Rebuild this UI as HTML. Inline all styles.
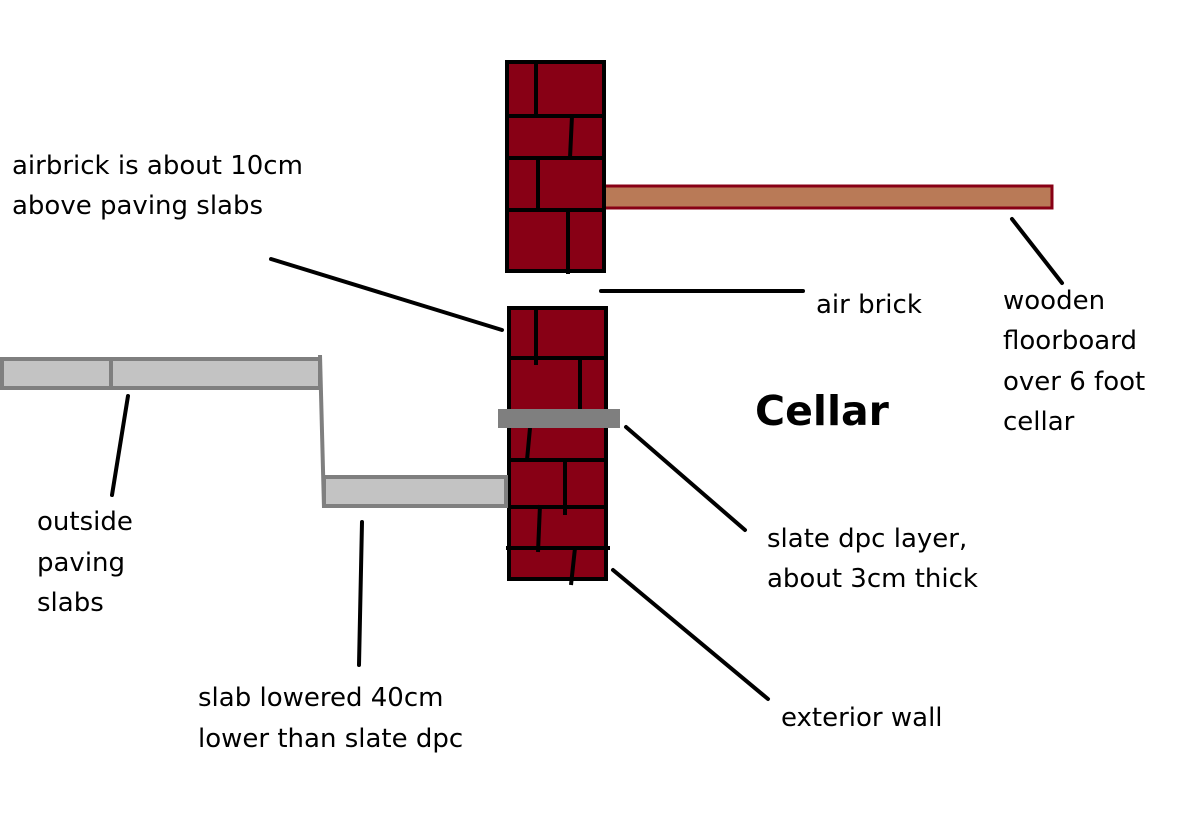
<!DOCTYPE html>
<html><head><meta charset="utf-8"><style>
html,body{margin:0;padding:0;background:#fff;width:1200px;height:823px;overflow:hidden}
text{font-family:"DejaVu Sans","Liberation Sans",sans-serif;font-size:26px;fill:#000}
</style></head><body>
<svg width="1200" height="823" viewBox="0 0 1200 823" xmlns="http://www.w3.org/2000/svg">
<rect x="604" y="186" width="448" height="22" fill="#b97a57" stroke="#880015" stroke-width="3"/>
<rect x="507" y="62" width="97" height="209" fill="#880015" stroke="#000" stroke-width="4"/>
<g stroke="#000" stroke-width="4" fill="none">
<line x1="507" y1="116" x2="606" y2="116"/>
<line x1="507" y1="158" x2="606" y2="158"/>
<line x1="507" y1="210" x2="606" y2="210"/>
<line x1="536" y1="62" x2="536" y2="116"/>
<line x1="572" y1="116" x2="570" y2="158"/>
<line x1="538" y1="158" x2="538" y2="210"/>
<line x1="568" y1="210" x2="568" y2="274"/>
</g>
<rect x="509" y="308" width="97" height="271" fill="#880015" stroke="#000" stroke-width="4"/>
<g stroke="#000" stroke-width="4" fill="none">
<line x1="509" y1="358" x2="606" y2="358"/>
<line x1="509" y1="460" x2="608" y2="460"/>
<line x1="509" y1="507" x2="608" y2="507"/>
<line x1="506" y1="548" x2="610" y2="548"/>
<line x1="536" y1="308" x2="536" y2="365"/>
<line x1="580" y1="358" x2="580" y2="409"/>
<line x1="530" y1="428" x2="527" y2="460"/>
<line x1="565" y1="460" x2="565" y2="515"/>
<line x1="540" y1="505" x2="538" y2="552"/>
<line x1="575" y1="548" x2="571" y2="585"/>
</g>
<rect x="498" y="409" width="122" height="19" fill="#7f7f7f"/>
<rect x="2" y="359" width="318" height="29" fill="#c3c3c3" stroke="#7f7f7f" stroke-width="4"/>
<line x1="111" y1="359" x2="111" y2="388" stroke="#7f7f7f" stroke-width="4"/>
<line x1="320" y1="355" x2="324" y2="508" stroke="#7f7f7f" stroke-width="4"/>
<rect x="324" y="477" width="182" height="29" fill="#c3c3c3" stroke="#7f7f7f" stroke-width="4"/>
<g stroke="#000" stroke-width="4" stroke-linecap="round">
<line x1="271" y1="259" x2="502" y2="330"/>
<line x1="601" y1="291" x2="803" y2="291"/>
<line x1="1012" y1="219" x2="1062" y2="283"/>
<line x1="626" y1="427" x2="745" y2="530"/>
<line x1="613" y1="570" x2="768" y2="699"/>
<line x1="128" y1="396" x2="112" y2="495"/>
<line x1="362" y1="522" x2="359" y2="665"/>
</g>
<text x="12" y="174">airbrick is about 10cm</text>
<text x="12" y="214">above paving slabs</text>
<text x="816" y="313">air brick</text>
<text x="1003" y="309">wooden</text>
<text x="1003" y="349">floorboard</text>
<text x="1003" y="390">over 6 foot</text>
<text x="1003" y="430">cellar</text>
<text x="755" y="425" style="font-size:41px;font-weight:bold">Cellar</text>
<text x="767" y="547">slate dpc layer,</text>
<text x="767" y="587">about 3cm thick</text>
<text x="37" y="530">outside</text>
<text x="37" y="571">paving</text>
<text x="37" y="611">slabs</text>
<text x="198" y="706">slab lowered 40cm</text>
<text x="198" y="747">lower than slate dpc</text>
<text x="781" y="726">exterior wall</text>
</svg>
</body></html>
